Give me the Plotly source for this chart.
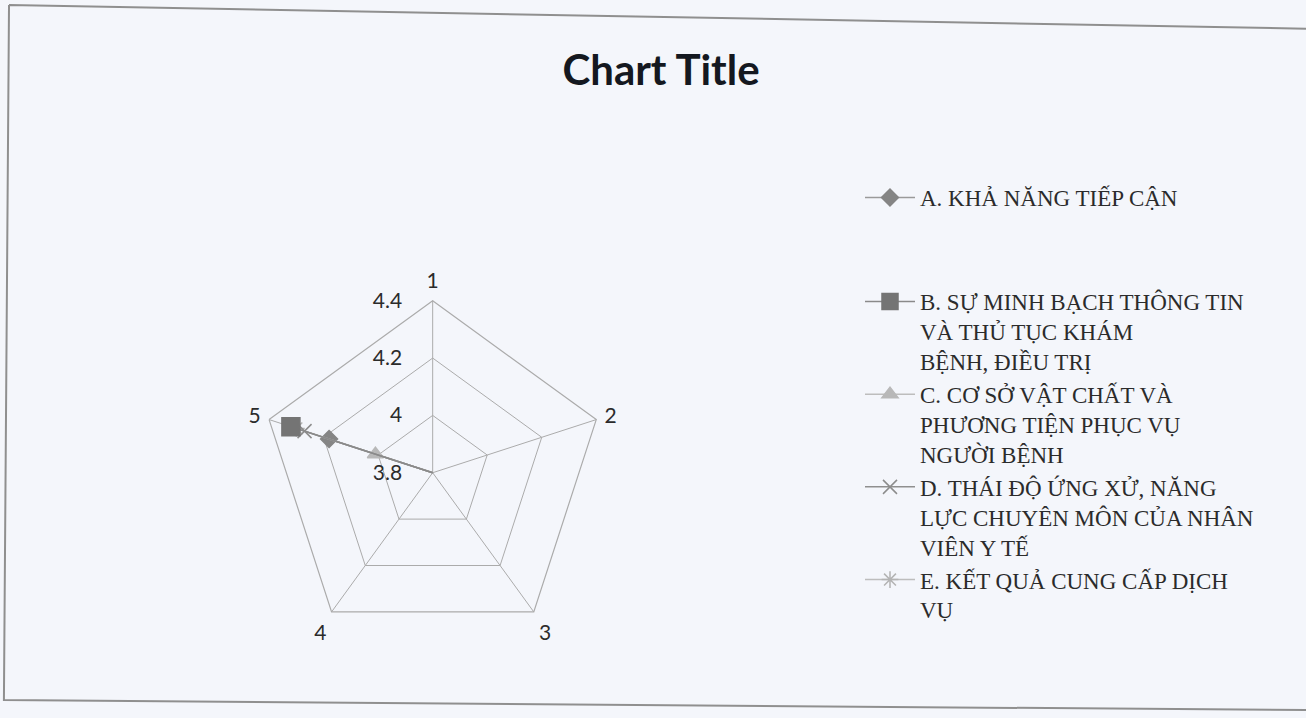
import plotly.graph_objects as go

# radar spokes (Excel categories 1..5)
categories = ["1", "2", "3", "4", "5"]

# each series only has a value on spoke 5, the rest sit at the centre
series_names = [
    "A. KHẢ NĂNG TIẾP CẬN",
    "B. SỰ MINH BẠCH THÔNG TIN<br>VÀ THỦ TỤC KHÁM<br>BỆNH, ĐIỀU TRỊ",
    "C. CƠ SỞ VẬT CHẤT VÀ<br>PHƯƠNG TIỆN PHỤC VỤ<br>NGƯỜI BỆNH",
    "D. THÁI ĐỘ ỨNG XỬ, NĂNG<br>LỰC CHUYÊN MÔN CỦA NHÂN<br>VIÊN Y TẾ",
    "E. KẾT QUẢ CUNG CẤP DỊCH<br>VỤ",
]
values_a = [3.8, 3.8, 3.8, 3.8, 4.18]
values_b = [3.8, 3.8, 3.8, 3.8, 4.32]
values_c = [3.8, 3.8, 3.8, 3.8, 4.01]
values_d = [3.8, 3.8, 3.8, 3.8, 4.27]
values_e = [3.8, 3.8, 3.8, 3.8, 4.30]

radial_ticks = [3.8, 4.0, 4.2, 4.4]
radial_labels = ["3.8", "4", "4.2", "4.4"]

line_grey = "#ababab"
text_col = "#2b2b2b"
paper_col = "#f4f6fb"
pad = "\u00a0" * 5  # Excel keeps the value labels well clear of the spoke

styles = [
    dict(symbol="diamond", size=13, color="#858585", line="#9a9a9a", legend="legend"),
    dict(symbol="square", size=18, color="#747474", line="#8a8a8a", legend="legend2"),
    dict(symbol="triangle-up", size=14, color="#b8b8b8", line="#bdbdbd", legend="legend2"),
    dict(symbol="x-thin", size=14, color="#8c8c8c", line="#8f8f8f", legend="legend2"),
    dict(symbol="asterisk", size=14, color="#b3b3b3", line="#bdbdbd", legend="legend2"),
]
all_values = [values_a, values_b, values_c, values_d, values_e]
draw_order = [0, 2, 4, 3, 1]  # square ends up on top, as in Excel

fig = go.Figure()
for i in draw_order:
    st = styles[i]
    vals = all_values[i]
    fig.add_trace(go.Scatterpolar(
        r=vals + vals[:1],
        theta=categories + categories[:1],
        name=series_names[i],
        mode="lines+markers",
        line=dict(color=st["line"], width=1.5),
        marker=dict(symbol=st["symbol"], size=st["size"], color=st["color"],
                    line=dict(color=st["color"], width=1.5)),
        legend=st["legend"],
        legendrank=i + 1,
        showlegend=True,
    ))

# scanned frame around the chart, slightly skewed
fig.add_shape(type="path", xref="paper", yref="paper",
              path="M 0.0069,0.993 L 1.0,0.96 M 0.0069,0.993 L 0.003,0.025 L 1.0,0.011",
              line=dict(color="#8f8f8f", width=2))

fig.update_layout(
    width=1306, height=718,
    margin=dict(l=0, r=0, t=0, b=0),
    paper_bgcolor=paper_col,
    showlegend=True,
    title=dict(text="<b>Chart Title</b>", x=661 / 1306, y=1 - 70 / 718,
               xanchor="center", yanchor="middle",
               font=dict(family="Lato", size=42, color="#141820")),
    polar=dict(
        domain=dict(x=[0.1996, 0.4630], y=[0.1020, 0.5812]),
        gridshape="linear",
        bgcolor="rgba(0,0,0,0)",
        angularaxis=dict(
            type="category", categoryarray=categories,
            rotation=90, direction="clockwise",
            showline=True, linecolor=line_grey, linewidth=1.2,
            gridcolor=line_grey, gridwidth=1.2,
            ticks="outside", ticklen=4, tickcolor="rgba(0,0,0,0)",
            tickfont=dict(family="Lato", size=21, color=text_col),
        ),
        radialaxis=dict(
            range=[3.8, 4.4], angle=90, side="counterclockwise",
            tickvals=radial_ticks, ticktext=[t + pad for t in radial_labels], tickangle=90,
            showline=False, ticks="",
            gridcolor=line_grey, gridwidth=1.2,
            tickfont=dict(family="Lato", size=21, color=text_col),
        ),
    ),
    legend=dict(
        x=860 / 1306, y=1 - 176 / 718, xanchor="left", yanchor="top",
        bgcolor="rgba(0,0,0,0)", itemwidth=50, valign="top",
        font=dict(family="Liberation Serif", size=23, color=text_col),
    ),
    legend2=dict(
        x=860 / 1306, y=1 - 280 / 718, xanchor="left", yanchor="top",
        bgcolor="rgba(0,0,0,0)", itemwidth=50, valign="top", tracegroupgap=3,
        font=dict(family="Liberation Serif", size=23, color=text_col),
    ),
)

fig.write_html("out.html", config={"displayModeBar": False},
               post_script="document.body.style.margin='0';")
